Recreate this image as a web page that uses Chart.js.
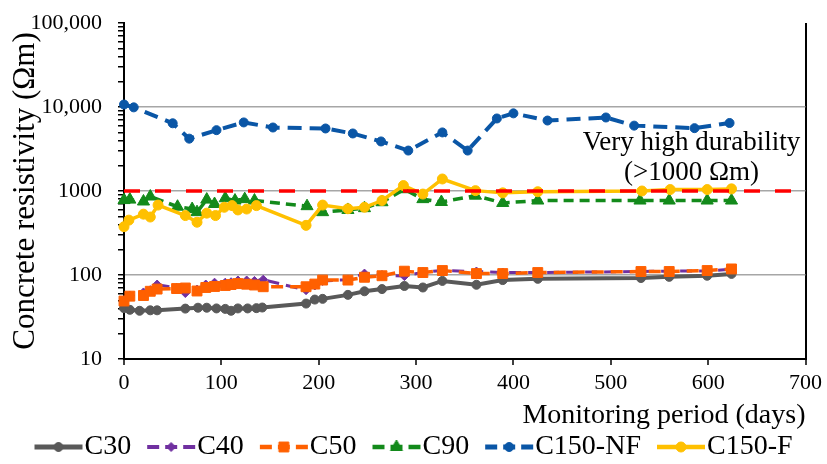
<!DOCTYPE html>
<html>
<head>
<meta charset="utf-8">
<script src="https://cdn.jsdelivr.net/npm/chart.js@4.4.1/dist/chart.umd.min.js"></script>
<style>
  html, body { margin: 0; padding: 0; background: #fff; }
  #wrap { width: 827px; height: 464px; }
</style>
</head>
<body>
<div id="wrap"><canvas id="resistivity"></canvas></div>
<script>
// monitoring days and resistivity (Ωm) per mix
const daysC30 = [0, 6, 16, 27, 34, 63, 76, 85, 95, 104, 110, 117, 127, 136, 142, 187, 196, 204, 230, 247, 265, 288, 307, 327, 362, 389, 425, 531, 560, 599, 624];
const c30 = [40.3, 38.5, 37.5, 38, 38, 39.8, 40.8, 40.8, 40, 39.5, 37.5, 40, 40, 40.3, 41, 45.7, 51, 52, 58, 64, 68, 74, 71, 85, 76.5, 87, 90, 92, 95, 98, 103];

const daysC40 = [0, 6, 20, 27, 34, 54, 63, 75, 84, 93, 104, 110, 117, 126, 134, 143, 187, 196, 204, 230, 247, 265, 288, 307, 327, 362, 389, 425, 531, 560, 599, 624];
const c40 = [50, 57, 62, 66, 77, 70, 61, 67, 77, 81, 81, 82, 86, 86, 85, 88, 66, 75, 85, 88, 104, 100, 97, 108, 113, 110, 107, 107, 110, 111, 112, 117];

const daysC50 = [0, 6, 20, 27, 34, 54, 63, 75, 84, 93, 104, 110, 117, 126, 134, 143, 187, 196, 204, 230, 247, 265, 288, 307, 327, 362, 389, 425, 531, 560, 599, 624];
const c50 = [49, 56, 57, 64, 68, 69, 70, 64.5, 71, 73, 75, 77, 79, 77.7, 76, 72.5, 72.5, 78, 87, 87, 94, 98, 111, 107, 113, 104, 104, 107, 110, 110, 113, 118];

const daysC90 = [0, 6, 20, 27, 55, 70, 75, 85, 93, 104, 114, 124, 134, 188, 204, 230, 247, 265, 288, 307, 326, 361, 389, 425, 530, 560, 599, 624];
const c90 = [780, 790, 750, 860, 650, 610, 560, 790, 700, 820, 770, 800, 770, 660, 560, 595, 625, 735, 1050, 800, 740, 880, 720, 770, 770, 770, 770, 770];

const daysC150NF = [0, 10, 50, 67, 95, 123, 153, 207, 235, 264, 292, 327, 353, 383, 400, 435, 495, 524, 586, 622];
const c150NF = [10700, 9900, 6400, 4200, 5300, 6550, 5700, 5550, 4840, 3890, 3030, 4980, 3030, 7300, 8400, 6900, 7500, 6000, 5600, 6450];

const daysC150F = [0, 5, 20, 27, 35, 63, 75, 85, 94, 103, 111, 117, 126, 136, 187, 204, 230, 247, 265, 287, 307, 327, 361, 389, 425, 532, 561, 599, 624];
const c150F = [376, 450, 530, 490, 680, 510, 425, 545, 510, 640, 670, 595, 610, 670, 390, 680, 615, 640, 770, 1160, 920, 1390, 1010, 950, 980, 1000, 1040, 1040, 1060];

// "very high durability" limit
const limitDays = [0, 700];
const limitValues = [1000, 1000];

const yTickValues = [10, 100, 1000, 10000, 100000];
const yTickLabels = ["10", "100", "1000", "10,000", "100,000"];

const noteLines = ["Very high durability", "(>1000 Ωm)"];
const noteDay = 583;
const noteValues = [3750, 1620];

const FONT = "'Liberation Serif', 'Times New Roman', serif";

function points(days, vals) {
  return days.map((d, i) => ({ x: d, y: vals[i] }));
}

function series(label, days, vals, color, dash, style, radius, width, order) {
  return {
    label: label,
    data: points(days, vals),
    borderColor: color,
    backgroundColor: color,
    borderWidth: width,
    borderDash: dash,
    pointStyle: style,
    pointRadius: radius,
    pointBorderWidth: 1,
    pointBackgroundColor: color,
    pointBorderColor: color,
    tension: 0,
    clip: false,
    order: order,
  };
}

const datasets = [
  series("C30", daysC30, c30, "#595959", [], "circle", 4.5, 4, 6),
  series("C40", daysC40, c40, "#7030A0", [12, 7], "rectRot", 4.5, 3, 5),
  series("C50", daysC50, c50, "#FF6000", [12, 7], "rect", 7, 3.5, 4),
  series("C90", daysC90, c90, "#138A1B", [10, 6], "triangle", 7, 3.5, 3),
  series("C150-NF", daysC150NF, c150NF, "#0A56A6", [14, 8], "circle", 4.5, 4, 2),
  series("C150-F", daysC150F, c150F, "#FFC000", [], "circle", 5, 3.5, 1),
  {
    label: "limit",
    data: points(limitDays, limitValues),
    borderColor: "#FF0000",
    borderWidth: 3.5,
    borderDash: [16, 15],
    pointRadius: 0,
    clip: false,
    order: 0,
  },
];

// legend icon: short line with the marker in the middle; the canvas is
// wider than the visible part so the line starts at the item's left edge
function legendIcon(ds) {
  const c = document.createElement("canvas");
  c.width = 96;
  c.height = 18;
  const g = c.getContext("2d");
  g.strokeStyle = ds.borderColor;
  g.fillStyle = ds.borderColor;
  g.lineWidth = ds.borderWidth + 1;
  g.setLineDash(ds.borderDash.length ? [12, 6] : []);
  g.beginPath();
  g.moveTo(30, 9);
  g.lineTo(78, 9);
  g.stroke();
  g.setLineDash([]);
  g.lineWidth = 1;
  Chart.helpers.drawPoint(g, { pointStyle: ds.pointStyle, radius: ds.pointRadius, borderWidth: 1, rotation: 0 }, 54, 9);
  return c;
}

const durabilityNote = {
  id: "durabilityNote",
  afterDatasetsDraw(chart) {
    const { ctx, scales: { x, y } } = chart;
    ctx.save();
    ctx.font = "27px " + FONT;
    ctx.fillStyle = "#000";
    ctx.textAlign = "center";
    ctx.textBaseline = "middle";
    noteLines.forEach((line, i) => {
      ctx.fillText(line, x.getPixelForValue(noteDay), y.getPixelForValue(noteValues[i]));
    });
    ctx.restore();
  },
};

document.addEventListener("DOMContentLoaded", () => {
  const ctx = document.getElementById("resistivity").getContext("2d");

  new Chart(ctx, {
    type: "line",
    data: { datasets: datasets },
    plugins: [durabilityNote],
    options: {
      responsive: true,
      maintainAspectRatio: false,
      animation: false,
      devicePixelRatio: 1,
      layout: { padding: { top: 23, right: 0, bottom: -7, left: 0 } },
      plugins: {
        tooltip: { enabled: false },
        legend: {
          position: "bottom",
          labels: {
            usePointStyle: true,
            pointStyleWidth: 36,
            padding: 16,
            color: "#000",
            font: { family: FONT, size: 28 },
            generateLabels: (chart) =>
              chart.data.datasets
                .map((ds, i) => ({
                  text: ds.label,
                  pointStyle: ds.label === "limit" ? "line" : legendIcon(ds),
                  fillStyle: ds.borderColor,
                  strokeStyle: ds.borderColor,
                  lineWidth: 0,
                  hidden: false,
                  fontColor: "#000",
                  datasetIndex: i,
                }))
                .filter((item) => item.text !== "limit"),
          },
        },
      },
      scales: {
        x: {
          type: "linear",
          min: 0,
          max: 700,
          afterFit: (scale) => {
            scale.height = 58;
          },
          border: { display: true, color: "#000", width: 2 },
          grid: {
            drawOnChartArea: true,
            drawTicks: true,
            tickLength: 6,
            tickColor: "#000",
            tickWidth: 1.5,
            lineWidth: 2,
            color: (c) => (c.tick && c.tick.value === 700 ? "#000" : "transparent"),
          },
          ticks: {
            stepSize: 100,
            padding: 5,
            color: "#000",
            font: { family: FONT, size: 22 },
          },
          title: {
            display: true,
            text: "Monitoring period (days)",
            align: "end",
            color: "#000",
            font: { family: FONT, size: 28 },
            padding: { top: 0, bottom: -15 },
          },
        },
        y: {
          type: "logarithmic",
          min: 10,
          max: 100000,
          afterFit: (scale) => {
            scale.width = 124;
            scale.paddingTop = 0;
            scale.paddingBottom = 0;
          },
          afterBuildTicks: (scale) => {
            const ticks = [];
            for (let d = 10; d < 100000; d *= 10) {
              for (let m = 1; m < 10; m++) ticks.push({ value: m * d });
            }
            ticks.push({ value: 100000 });
            scale.ticks = ticks;
          },
          border: { display: true, color: "#000", width: 2 },
          grid: {
            drawTicks: true,
            tickLength: 6,
            tickColor: "#000",
            tickWidth: 1.5,
            lineWidth: 1.5,
            color: (c) => {
              if (!c.tick) return "transparent";
              const v = c.tick.value;
              return v === 100 || v === 1000 || v === 10000 ? "#A6A6A6" : "transparent";
            },
          },
          ticks: {
            autoSkip: false,
            padding: 16,
            color: "#000",
            font: { family: FONT, size: 22 },
            callback: (value) => {
              const i = yTickValues.indexOf(value);
              return i >= 0 ? yTickLabels[i] : "";
            },
          },
          title: {
            display: true,
            text: "Concrete resistivity (Ωm)",
            color: "#000",
            font: { family: FONT, size: 31 },
            padding: { top: 7, bottom: 0 },
          },
        },
        // empty strip on the right that leaves the margin beside the plot
        gap: {
          type: "linear",
          position: "right",
          display: true,
          afterFit: (scale) => {
            scale.width = 21;
          },
          border: { display: false },
          grid: { display: false, drawTicks: false },
          ticks: { display: false },
        },
      },
    },
  });
});
</script>
</body>
</html>
